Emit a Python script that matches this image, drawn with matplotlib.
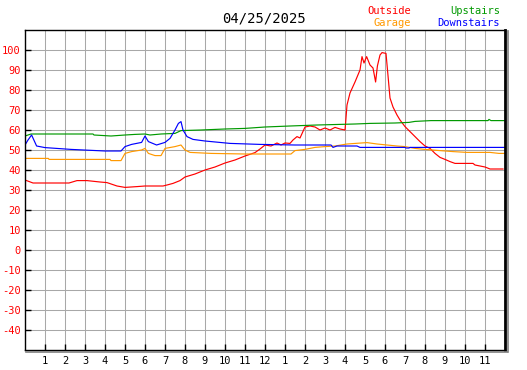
import matplotlib
matplotlib.use("Agg")
import matplotlib.pyplot as plt
from matplotlib.lines import Line2D

title = "04/25/2025"

# hours after midnight / degrees
outside_h = [0, 0.4, 2.2, 2.6, 3.1, 3.75, 4.1, 4.6, 5, 5.6, 6, 6.9, 7.1, 7.4, 7.75,
             8, 8.5, 9, 9.5, 10, 10.5, 11, 11.5, 11.75, 12, 12.3, 12.6, 12.8, 13,
             13.25, 13.4, 13.6, 13.75, 14, 14.25, 14.5, 14.75, 15, 15.25, 15.5,
             15.75, 16, 16.03, 16.1, 16.25, 16.5, 16.75, 16.85, 16.95, 17.08,
             17.25, 17.4, 17.53, 17.62, 17.75, 17.85, 18.05, 18.17, 18.25, 18.4,
             18.6, 18.75, 19, 19.25, 19.5, 19.75, 20, 20.25, 20.5, 20.75, 21,
             21.25, 21.5, 22.4, 22.5, 23, 23.25, 23.9]
outside_v = [35, 33.5, 33.5, 34.7, 34.7, 34, 33.7, 32, 31.3, 31.7, 32, 32, 32.5, 33.3, 34.7,
             36.5, 38, 40, 41.5, 43.5, 45, 47, 48.7, 50.5, 52.5, 52, 53.5, 52.5, 53.5,
             53.3, 55, 56.7, 56, 61.5, 62, 61.5, 60, 61, 60, 61.3,
             60.5, 60, 63.5, 72.5, 78.5, 84, 90, 96.7, 93.5, 96.7,
             92.5, 91, 84, 92, 97.5, 98.7, 98.3, 85, 76, 71.5,
             67.5, 65, 61.7, 59.2, 56.7, 54.2, 52, 50.8, 48.3, 46.3, 45.3,
             44.2, 43.3, 43.3, 42.5, 41.5, 40.5, 40.5]

upstairs_h = [0, 0.3, 3.4, 3.45, 4.3, 5, 5.5, 6, 6.25, 6.8, 7.5, 7.8, 8.8, 10, 11, 12,
              13.25, 14.6, 16.5, 17.25, 18.5, 19.2, 19.5, 20.3, 23.15, 23.2, 23.3, 24]
upstairs_v = [57, 58, 58, 57.5, 57, 57.5, 57.8, 58, 57.5, 58, 58.3, 59.7, 60, 60.5, 60.8, 61.5,
              62, 62.5, 63, 63.3, 63.5, 63.8, 64.3, 64.7, 64.7, 65.3, 64.7, 64.7]

downstairs_h = [0, 0.15, 0.33, 0.58, 1, 2.3, 4, 4.8, 5, 5.33, 5.83, 6, 6.17, 6.58, 7,
                7.25, 7.5, 7.67, 7.8, 7.9, 8.1, 8.4, 9, 10.25, 11.75, 13.5, 15.3, 15.4,
                15.6, 16.6, 16.75, 19, 19.05, 19.2, 19.25, 24]
downstairs_v = [52.5, 55, 57.5, 52, 51.2, 50.3, 49.5, 49.5, 51.7, 52.8, 53.8, 57, 54.2, 52.5, 53.8,
                55.8, 60, 63.3, 64.2, 60, 56.7, 55.3, 54.5, 53.3, 52.8, 52.5, 52.5, 51.3,
                52, 52, 51.3, 51.3, 51, 51, 51.3, 51.3]

garage_h = [0, 1.17, 1.2, 4.25, 4.3, 4.8, 5, 5.33, 5.83, 6, 6.17, 6.5, 6.8, 7, 7.5, 7.8,
            8, 8.25, 9.3, 11, 13.3, 13.5, 14, 14.5, 15, 15.5, 16.1, 17.1, 17.6, 18.1,
            18.6, 19, 19.5, 20, 20.75, 21.4, 22.1, 23.25, 23.7, 24]
garage_v = [45.8, 45.8, 45.3, 45.3, 44.7, 44.7, 48.3, 49.2, 50, 50.8, 48.3, 47.2, 47.2, 50.8, 51.7, 52.5,
            50, 48.8, 48.3, 48, 48, 49.7, 50.3, 51.3, 51.7, 52, 53, 53.7, 53, 52.5,
            52, 51.7, 50.8, 50.3, 49.7, 49.2, 48.8, 48.8, 48.3, 48.3]

x_ticks = list(range(1, 24))
x_labels = [str(h if h <= 12 else h - 12) for h in x_ticks]
y_ticks = list(range(-40, 101, 10))

RED = "#ff0000"
ORANGE = "#ff9900"
GREEN = "#009900"
BLUE = "#0000ff"
FONT = "DejaVu Sans Mono"

W, H = 527, 370
fig = plt.figure(figsize=(W / 100, H / 100), dpi=100)
ax = fig.add_axes([25 / W, 20 / H, 480 / W, 320 / H])

ax.plot(outside_h, outside_v, color=RED, lw=0.85)
ax.plot(upstairs_h, upstairs_v, color=GREEN, lw=0.85)
ax.plot(garage_h, garage_v, color=ORANGE, lw=0.85)
ax.plot(downstairs_h, downstairs_v, color=BLUE, lw=0.85)

ax.set_xlim(0, 24)
ax.set_ylim(-50, 110)
ax.set_xticks(x_ticks)
ax.set_xticklabels(x_labels, fontfamily=FONT, fontsize=7.5)
ax.set_yticks(y_ticks)
ax.set_yticklabels([str(v) for v in y_ticks], fontfamily=FONT, fontsize=7.5, color=RED)
ax.tick_params(direction="in", length=4, width=1, color="black")
ax.tick_params(axis="y", pad=3)
ax.tick_params(axis="x", pad=4)
ax.grid(True, color="#a8a8a8", lw=0.75)
ax.set_axisbelow(True)
for side in ax.spines:
    ax.spines[side].set_color("black")
    ax.spines[side].set_linewidth(1.0)
ax.spines["right"].set_linewidth(2.0)

# drop shadow on the right and bottom edges
fig.add_artist(Line2D([26 / W, 507 / W], [1 - 352 / H, 1 - 352 / H], color="#808080", lw=1.2))
fig.add_artist(Line2D([507.5 / W, 507.5 / W], [1 - 352 / H, 1 - 31 / H], color="#808080", lw=1.2))

fig.text(264 / W, 1 - 19 / H, title, ha="center", va="center", fontfamily=FONT, fontsize=10)
fig.text(411 / W, 1 - 11 / H, "Outside", ha="right", va="center", fontfamily=FONT, fontsize=7.5, color=RED)
fig.text(411 / W, 1 - 23 / H, "Garage", ha="right", va="center", fontfamily=FONT, fontsize=7.5, color=ORANGE)
fig.text(500 / W, 1 - 11 / H, "Upstairs", ha="right", va="center", fontfamily=FONT, fontsize=7.5, color=GREEN)
fig.text(500 / W, 1 - 23 / H, "Downstairs", ha="right", va="center", fontfamily=FONT, fontsize=7.5, color=BLUE)

fig.savefig("out.png", dpi=100)
